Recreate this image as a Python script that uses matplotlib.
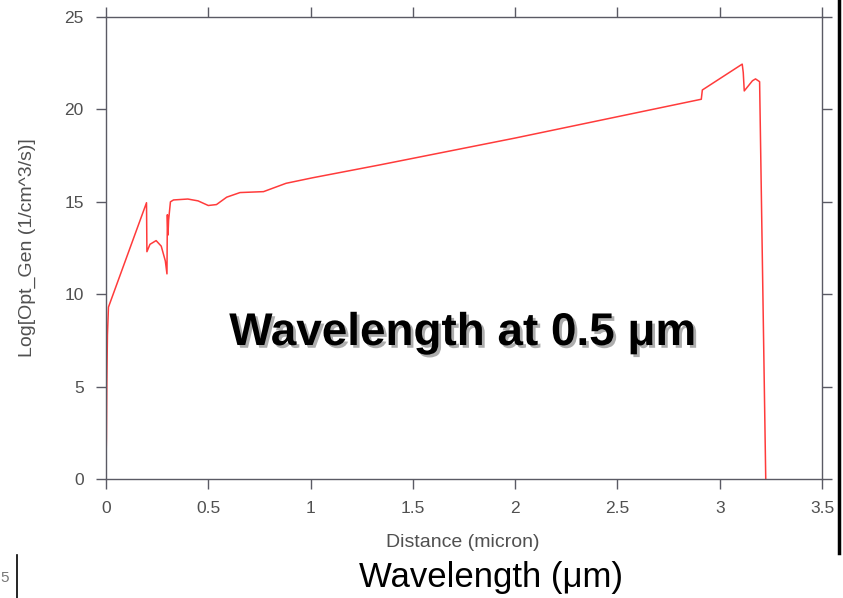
import matplotlib
matplotlib.use('Agg')
import matplotlib.pyplot as plt
import matplotlib.patheffects as pe
import numpy as np

plt.rcParams['font.family'] = ['Liberation Sans', 'DejaVu Sans']

# distance (micron) and Log[Opt_Gen]
distance = [0.0, 0.002, 0.004, 0.007, 0.012, 0.198, 0.200, 0.215, 0.245, 0.270,
            0.290, 0.298, 0.300, 0.303, 0.306, 0.315, 0.330, 0.400, 0.450, 0.500,
            0.540, 0.590, 0.655, 0.770, 0.880, 1.010, 1.340, 2.000, 2.910, 2.915,
            3.110, 3.115, 3.120, 3.160, 3.175, 3.195, 3.225]
log_gen = [0.8, 2.2, 5.2, 7.8, 9.3, 14.95, 12.3, 12.7, 12.9, 12.6,
           11.8, 11.1, 14.3, 13.2, 14.0, 15.0, 15.1, 15.15, 15.05, 14.8,
           14.85, 15.25, 15.5, 15.55, 16.0, 16.3, 17.0, 18.45, 20.55, 21.05,
           22.45, 22.0, 21.0, 21.55, 21.65, 21.5, 0.0]

xticks = [0, 0.5, 1, 1.5, 2, 2.5, 3, 3.5]
xticklabels = ['0', '0.5', '1', '1.5', '2', '2.5', '3', '3.5']
yticks = [0, 5, 10, 15, 20, 25]

spine_col = '#5a5a64'
label_col = '#505050'

fig = plt.figure(figsize=(8.43, 5.98), dpi=100)
ax = fig.add_axes([106/843, 1-479/598, (822-106)/843, (479-17)/598])

ax.plot(distance, log_gen, color='#ff3b3b', lw=1.1)

ax.set_xlim(0, 3.5)
ax.set_ylim(0, 25)
ax.set_xticks(xticks)
ax.set_xticklabels(xticklabels)
ax.set_yticks(yticks)
for s in ax.spines.values():
    s.set_color(spine_col)
    s.set_linewidth(1.0)
ax.tick_params(axis='both', which='both', direction='out', length=7, width=1.0,
               color=spine_col, labelcolor=label_col, labelsize=12.5, pad=9,
               top=True, right=True, labeltop=False, labelright=False)
ax.set_xlabel('Distance (micron)', color=label_col, fontsize=14)
ax.set_ylabel('Log[Opt_Gen (1/cm^3/s)]', color=label_col, fontsize=14)
ax.xaxis.set_label_coords(0.4986, -0.12)
ax.yaxis.set_label_coords(-0.098, 0.5)

ax.text(0.4986, 0.316, 'Wavelength at 0.5 \u03bcm', transform=ax.transAxes,
        ha='center', va='center', fontsize=33, fontweight='bold', color='black',
        path_effects=[pe.withSimplePatchShadow(offset=(2, -2), shadow_rgbFace='#999999', alpha=0.8)])

# bits of the surrounding slide
fig.text(491/843, 1-578/598, 'Wavelength (\u03bcm)', ha='center', va='center',
         fontsize=25, color='black')
fig.text(0.5/843, 1-578/598, '5', ha='left', va='center', fontsize=11, color='#777777')
fig.add_artist(plt.Line2D([17/843, 17/843], [0, 1-555/598], color='black', lw=1.2))
fig.add_artist(plt.Line2D([839/843, 839/843], [1-553/598, 1], color='black', lw=2.5))

fig.savefig('out.png', dpi=100)
